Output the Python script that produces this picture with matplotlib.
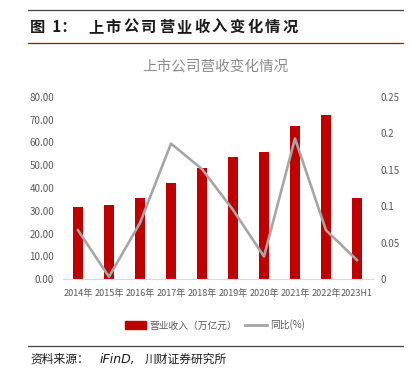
import numpy as np
import matplotlib.pyplot as plt
from matplotlib.lines import Line2D
from matplotlib.patches import Patch

plt.rcParams['font.family'] = ['Liberation Sans Narrow', 'Noto Sans CJK SC', 'DejaVu Sans']

# Data
years = ['2014年', '2015年', '2016年', '2017年', '2018年',
         '2019年', '2020年', '2021年', '2022年', '2023H1']
revenue = [31.5, 32.4, 35.5, 42.3, 48.9, 53.6, 55.8, 67.1, 72.0, 35.5]
yoy = [0.067, 0.003, 0.077, 0.186, 0.151, 0.095, 0.031, 0.193, 0.067, 0.026]
left_ticks = np.arange(0, 81, 10)
right_ticks = [0, 0.05, 0.1, 0.15, 0.2, 0.25]
right_labels = ['0', '0.05', '0.1', '0.15', '0.2', '0.25']
header_title = '上市公司营业收入变化情况'

bar_color = '#C00000'
line_color = '#A6A6A6'
text_color = '#595959'
cjk = ['Noto Sans CJK SC']

fig = plt.figure(figsize=(4.11, 3.82), dpi=100)


def fx(px):
    return px / 411


def fy(py):
    return 1 - py / 382


# header lines and titles (wide letter spacing, so one glyph at a time)
fig.add_artist(Line2D([fx(28), fx(403)], [fy(10)] * 2, color='#404040', lw=0.9))
fig.add_artist(Line2D([fx(28), fx(403)], [fy(43)] * 2, color='#C00000', lw=0.9))
fig.text(fx(30), fy(32), '图  1：', fontsize=11, fontweight='bold', family=cjk,
         va='baseline', ha='left', color='#1a1a1a')
for i, ch in enumerate(header_title):
    fig.text(fx(88 + i * 17.7), fy(32), ch, fontsize=11, fontweight='bold',
             family=cjk, va='baseline', ha='left', color='#1a1a1a')
fig.text(fx(215), fy(67), '上市公司营收变化情况', fontsize=10.5, family=cjk,
         va='center', ha='center', color='#8c8c8c')

ax = fig.add_axes([fx(62.5), 103 / 382, 310 / 411, 182 / 382])
x = np.arange(len(years))
ax.bar(x, revenue, width=0.32, color=bar_color, zorder=2)
ax.set_xlim(-0.5, len(years) - 0.5)
ax.set_ylim(0, 80)
ax.set_yticks(left_ticks)
ax.set_yticklabels([f'{v:.2f}' for v in left_ticks])
ax.set_xticks(x)
ax.set_xticklabels(years)
for s in ['top', 'left', 'right']:
    ax.spines[s].set_visible(False)
ax.spines['bottom'].set_color('#D9D9D9')
ax.tick_params(length=0, labelsize=7, colors=text_color, pad=6)
ax.tick_params(axis='x', labelsize=6.5, pad=7)

ax2 = ax.twinx()
ax2.plot(x, yoy, color=line_color, lw=1.9, zorder=3)
ax2.set_ylim(0, 0.25)
ax2.set_yticks(right_ticks)
ax2.set_yticklabels(right_labels)
for s in ['top', 'left', 'right', 'bottom']:
    ax2.spines[s].set_visible(False)
ax2.tick_params(length=0, labelsize=7, colors=text_color, pad=6)

handles = [Patch(color=bar_color), Line2D([0], [0], color=line_color, lw=2)]
fig.legend(handles, ['营业收入（万亿元）', '同比(%)'], loc='center',
           bbox_to_anchor=(fx(215), fy(325)), ncol=2, frameon=False,
           prop={'family': cjk, 'size': 7}, labelcolor=text_color,
           handlelength=2.2, handleheight=0.9, columnspacing=0.8, handletextpad=0.4)

fig.add_artist(Line2D([fx(28), fx(403)], [fy(346)] * 2, color='#404040', lw=0.9))
fig.text(fx(30), fy(359), '资料来源：', fontsize=8.5, family=cjk, style='italic',
         va='center', ha='left', color='#1a1a1a')
fig.text(fx(100), fy(359), 'iFinD,', fontsize=9, family=['DejaVu Sans'], style='italic',
         va='center', ha='left', color='#1a1a1a')
fig.text(fx(145), fy(359), '川财证券研究所', fontsize=8.5, family=cjk, style='italic',
         va='center', ha='left', color='#1a1a1a')

fig.savefig('out.png', dpi=100)
